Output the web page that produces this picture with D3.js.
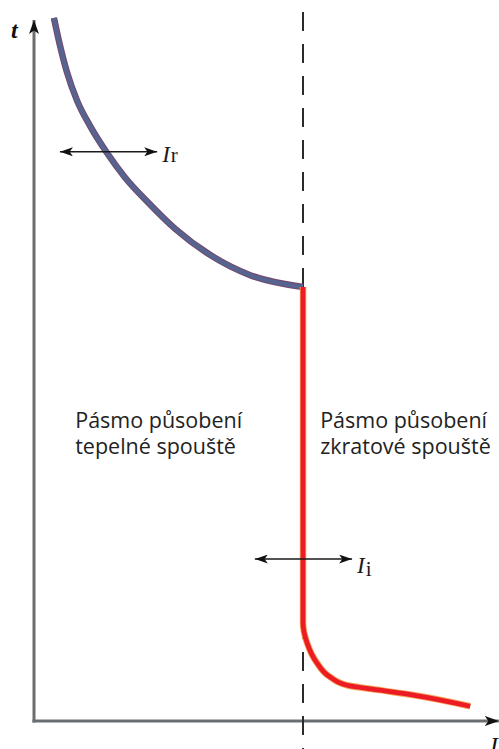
<!DOCTYPE html>
<html>
<head>
<meta charset="utf-8">
<script src="https://cdn.jsdelivr.net/npm/d3@7"></script>
<style>
  html, body { margin: 0; padding: 0; background: #fff; }
  svg { display: block; }
</style>
</head>
<body>
<div id="chart"></div>
<script>
// thermal release curve (current, time) in chart units
const thermalCurrent = [0.43, 0.56, 0.71, 0.93, 1.21, 1.56, 1.97, 2.46, 3.05, 3.80, 4.67, 5.81];
const thermalTime    = [10.03, 9.64, 9.26, 8.85, 8.49, 8.12, 7.75, 7.40, 7.02, 6.65, 6.36, 6.19];

// short-circuit release curve
const shortCurrent = [5.81, 5.81, 5.90, 6.11, 6.39, 6.76, 7.47, 8.19, 9.42];
const shortTime    = [6.19, 1.40, 1.11, 0.83, 0.63, 0.51, 0.44, 0.37, 0.21];

// boundary current (dashed line)
const boundaryCurrent = 5.81;

// setting arrows: [from, to] current, at time
const settingNames = ['r', 'i'];
const settingFrom  = [0.56, 4.77];
const settingTo    = [2.66, 6.87];
const settingTime  = [8.12, 2.31];

const zoneTitles = ['Pásmo působení', 'Pásmo působení'];
const zoneSubs   = ['tepelné spouště', 'zkratové spouště'];
const zoneCurrent = [0.89, 6.18];

const width = 499, height = 749;

const x = d3.scaleLinear().domain([0, 10]).range([34, 497]);
const y = d3.scaleLinear().domain([0, 10]).range([721, 20]);

const svg = d3.select('#chart').append('svg')
    .attr('width', width)
    .attr('height', height);

const defs = svg.append('defs');
function arrowMarker(id, len, wid) {
    defs.append('marker')
        .attr('id', id)
        .attr('viewBox', `0 0 ${len} ${wid}`)
        .attr('refX', len)
        .attr('refY', wid / 2)
        .attr('markerUnits', 'userSpaceOnUse')
        .attr('markerWidth', len)
        .attr('markerHeight', wid)
        .attr('orient', 'auto-start-reverse')
        .append('path')
        .attr('d', `M0,0L${len},${wid / 2}L0,${wid}L${len * 0.25},${wid / 2}Z`)
        .attr('fill', '#111');
}
arrowMarker('axisHead', 14, 10);
arrowMarker('smallHead', 13, 9);

// axes
svg.append('line')
    .attr('x1', x(0)).attr('y1', y(0) + 1.5)
    .attr('x2', x(0)).attr('y2', y(10))
    .attr('stroke', '#6b6e70').attr('stroke-width', 3)
    .attr('marker-end', 'url(#axisHead)');
svg.append('line')
    .attr('x1', x(0) - 1.5).attr('y1', y(0))
    .attr('x2', x(10.04)).attr('y2', y(0))
    .attr('stroke', '#6b6e70').attr('stroke-width', 3)
    .attr('marker-end', 'url(#axisHead)');

// dashed boundary
svg.append('line')
    .attr('x1', x(boundaryCurrent)).attr('y1', 12)
    .attr('x2', x(boundaryCurrent)).attr('y2', height)
    .attr('stroke', '#2b2b2b').attr('stroke-width', 2)
    .attr('stroke-dasharray', '19,13');

const thermalLine = d3.line()
    .x(d => x(d[0]))
    .y(d => y(d[1]))
    .curve(d3.curveMonotoneX);

const shortLine = d3.line()
    .x(d => x(d[0]))
    .y(d => y(d[1]))
    .curve(d3.curveMonotoneY);

const thermal = d3.zip(thermalCurrent, thermalTime);
const shortC = d3.zip(shortCurrent, shortTime);

svg.append('path').datum(thermal)
    .attr('d', thermalLine).attr('fill', 'none')
    .attr('stroke', '#74486e').attr('stroke-width', 6.5);
svg.append('path').datum(thermal)
    .attr('d', thermalLine).attr('fill', 'none')
    .attr('stroke', '#56648f').attr('stroke-width', 4.5);

svg.append('path').datum(shortC)
    .attr('d', shortLine).attr('fill', 'none')
    .attr('stroke', '#f4a35a').attr('stroke-width', 6.5);
svg.append('path').datum(shortC)
    .attr('d', shortLine).attr('fill', 'none')
    .attr('stroke', '#ed1c24').attr('stroke-width', 4.8);

// setting arrows and labels
settingNames.forEach((name, i) => {
    svg.append('line')
        .attr('x1', x(settingFrom[i])).attr('y1', y(settingTime[i]))
        .attr('x2', x(settingTo[i])).attr('y2', y(settingTime[i]))
        .attr('stroke', '#1a1a1a').attr('stroke-width', 1.6)
        .attr('marker-start', 'url(#smallHead)')
        .attr('marker-end', 'url(#smallHead)');

    const t = svg.append('text')
        .attr('x', x(settingTo[i]) + 5)
        .attr('y', y(settingTime[i]) + (i === 0 ? 10 : 14))
        .attr('font-family', '"Liberation Serif", "DejaVu Serif", serif')
        .attr('fill', '#1a1a1a');
    t.append('tspan').attr('font-style', 'italic').attr('font-size', 23).text('I');
    t.append('tspan').attr('font-size', 21).attr('dx', 1)
        .attr('dy', i === 0 ? 0 : 3).text(name);
});

// zone texts
zoneTitles.forEach((title, i) => {
    const t = svg.append('text')
        .attr('font-family', '"Open Sans", sans-serif')
        .attr('font-size', 21.5)
        .attr('fill', '#222');
    t.append('tspan').attr('x', x(zoneCurrent[i])).attr('y', 428).text(title);
    t.append('tspan').attr('x', x(zoneCurrent[i])).attr('y', 454).text(zoneSubs[i]);
});

// axis labels
svg.append('text')
    .attr('x', 11).attr('y', 38)
    .attr('font-family', '"Liberation Serif", serif')
    .attr('font-style', 'italic').attr('font-weight', 'bold')
    .attr('font-size', 24).attr('fill', '#111')
    .text('t');
svg.append('text')
    .attr('x', 490).attr('y', 753)
    .attr('font-family', '"Liberation Serif", serif')
    .attr('font-style', 'italic')
    .attr('font-size', 24).attr('fill', '#111')
    .text('I');
</script>
</body>
</html>
